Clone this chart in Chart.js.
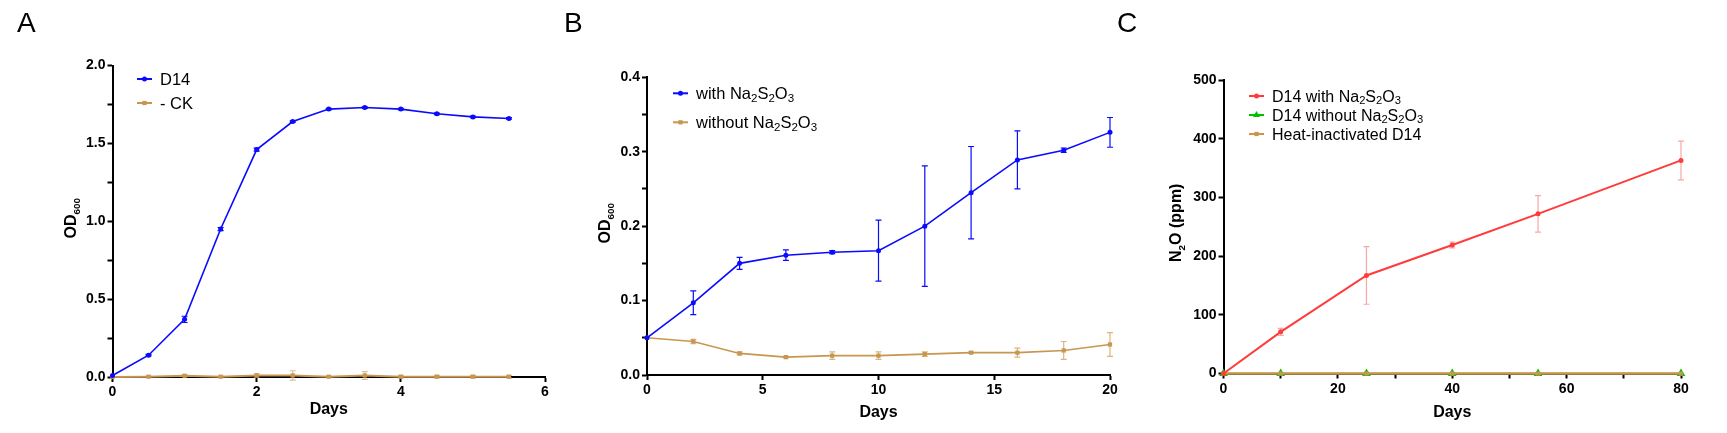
<!DOCTYPE html>
<html>
<head>
<meta charset="utf-8">
<script src="https://cdn.jsdelivr.net/npm/chart.js@4.4.1/dist/chart.umd.min.js"></script>
<style>
  html, body { margin: 0; padding: 0; background: #fff; }
  #wrap { position: relative; width: 1727px; height: 433px; overflow: hidden; }
  .layer { position: absolute; left: 0; top: 0; width: 1727px; height: 433px; }
  .panel { position: absolute; top: 9px; font: 28px "Liberation Sans", Arial, sans-serif; line-height: 28px; color: #000; }
</style>
</head>
<body>
<div id="wrap">
  <div class="layer"><canvas id="chartA"></canvas></div>
  <div class="layer"><canvas id="chartB"></canvas></div>
  <div class="layer"><canvas id="chartC"></canvas></div>
  <div class="panel" style="left:17px">A</div>
  <div class="panel" style="left:564px">B</div>
  <div class="panel" style="left:1117px">C</div>
</div>
<script>
"use strict";

// Panel A - growth curve
var daysA = [0, 0.5, 1, 1.5, 2, 2.5, 3, 3.5, 4, 4.5, 5, 5.5];
var d14OD = [0.01, 0.14, 0.37, 0.95, 1.46, 1.64, 1.72, 1.73, 1.72, 1.69, 1.67, 1.66];
var d14Err = [0, 0.005, 0.02, 0.01, 0.01, 0.005, 0.005, 0.005, 0.005, 0.005, 0.005, 0.005];
var ckOD = [0.0, 0.002, 0.008, 0.002, 0.01, 0.01, 0.002, 0.01, 0.002, 0.002, 0.002, 0.002];
var ckErr = [0, 0.003, 0.006, 0.003, 0.012, 0.03, 0.003, 0.025, 0.008, 0.008, 0.008, 0.008];

// Panel B - thiosulfate
var daysB = [0, 2, 4, 6, 8, 10, 12, 14, 16, 18, 20];
var withOD = [0.050, 0.097, 0.150, 0.161, 0.165, 0.167, 0.200, 0.245, 0.289, 0.302, 0.326];
var withErr = [0, 0.016, 0.008, 0.007, 0.002, 0.041, 0.081, 0.062, 0.039, 0.003, 0.020];
var withoutOD = [0.050, 0.045, 0.029, 0.024, 0.026, 0.026, 0.028, 0.030, 0.030, 0.033, 0.041];
var withoutErr = [0, 0.003, 0.002, 0.001, 0.005, 0.005, 0.003, 0.001, 0.006, 0.012, 0.016];

// Panel C - N2O
var daysC = [0, 10, 25, 40, 55, 80];
var n2oWith = [0, 71, 167, 219, 272, 363];
var n2oWithErr = [0, 6, 49, 5, 31, 33];
var n2oWithout = [0, 0, 0, 0, 0, 0];
var n2oHeat = [0, 0, 0, 0, 0, 0];

var BLUE = "#0a0aff";
var TAN = "#c8964f";
var RED = "#ff3b3b";
var GREEN = "#00c000";
var FONT = "'Liberation Sans', Arial, sans-serif";
var SUBS = "\u2080\u2081\u2082\u2083\u2084\u2085\u2086\u2087\u2088\u2089";

function pairs(xs, ys) {
	return xs.map(function(x, i) { return { x: x, y: ys[i] }; });
}

// split a label into normal / subscript runs so the subscripts get drawn smaller and lower
function runs(text) {
	var out = [];
	Array.from(text).forEach(function(ch) {
		var k = SUBS.indexOf(ch);
		var sub = k >= 0;
		var c = sub ? String(k) : ch;
		var last = out[out.length - 1];
		if (last && last.sub === sub) last.t += c;
		else out.push({ t: c, sub: sub });
	});
	return out;
}

// draws text with baseline at y, starting at x (or centred on x)
function richText(ctx, text, x, y, size, weight, centre, subScale, subDrop) {
	var parts = runs(text);
	var w = 0;
	parts.forEach(function(p) {
		ctx.font = weight + " " + (p.sub ? size * subScale : size) + "px " + FONT;
		p.w = ctx.measureText(p.t).width;
		w += p.w;
	});
	var cx = centre ? x - w / 2 : x;
	ctx.textBaseline = "alphabetic";
	ctx.textAlign = "left";
	parts.forEach(function(p) {
		ctx.font = weight + " " + (p.sub ? size * subScale : size) + "px " + FONT;
		ctx.fillText(p.t, cx, p.sub ? y + size * subDrop : y);
		cx += p.w;
	});
}

var errorBars = {
	id: "errorBars",
	beforeDatasetsDraw: function(chart) {
		var ctx = chart.ctx, xs = chart.scales.x, ys = chart.scales.y;
		chart.data.datasets.forEach(function(ds) {
			if (!ds.errors) return;
			ctx.save();
			ctx.strokeStyle = ds.errorColor || ds.borderColor;
			ctx.lineWidth = 1.2;
			ds.data.forEach(function(p, i) {
				var e = ds.errors[i];
				if (!e) return;
				var px = xs.getPixelForValue(p.x);
				var top = ys.getPixelForValue(p.y + e);
				var bot = ys.getPixelForValue(p.y - e);
				ctx.beginPath();
				ctx.moveTo(px, top); ctx.lineTo(px, bot);
				ctx.moveTo(px - 3, top); ctx.lineTo(px + 3, top);
				ctx.moveTo(px - 3, bot); ctx.lineTo(px + 3, bot);
				ctx.stroke();
			});
			ctx.restore();
		});
	}
};

var inlineLegend = {
	id: "inlineLegend",
	afterDraw: function(chart, args, opts) {
		var ctx = chart.ctx, area = chart.chartArea;
		ctx.save();
		chart.data.datasets.forEach(function(ds, i) {
			var x = area.left + opts.dx;
			var y = area.top + opts.dy + i * opts.spacing;
			ctx.strokeStyle = ds.borderColor;
			ctx.fillStyle = ds.borderColor;
			ctx.lineWidth = 2;
			ctx.beginPath();
			ctx.moveTo(x, y); ctx.lineTo(x + 15, y);
			ctx.stroke();
			Chart.helpers.drawPoint(ctx, { pointStyle: ds.pointStyle, radius: Math.min(ds.pointRadius, 4), borderWidth: 0, rotation: 0 }, x + 7.5, y);
			ctx.fillStyle = "#000";
			richText(ctx, ds.label, x + 23, y + opts.fontSize * 0.36, opts.fontSize, "normal", false, 0.7, 0.17);
		});
		ctx.restore();
	}
};

// y axis title with a real subscript, drawn rotated beside the axis
var yTitle = {
	id: "yTitle",
	afterDraw: function(chart, args, opts) {
		var ctx = chart.ctx, area = chart.chartArea;
		ctx.save();
		ctx.translate(opts.x, (area.top + area.bottom) / 2 + opts.dy);
		ctx.rotate(-Math.PI / 2);
		ctx.fillStyle = "#000";
		richText(ctx, opts.text, 0, opts.size * 0.36, opts.size, "bold", true, 0.62, 0.28);
		ctx.restore();
	}
};

function axis(opts) {
	return {
		type: "linear",
		min: opts.min,
		max: opts.max,
		border: { display: true, color: "#000", width: 2 },
		grid: { display: true, drawOnChartArea: false, drawTicks: true, tickLength: 5, tickColor: "#000", tickWidth: 2 },
		ticks: {
			stepSize: opts.step,
			autoSkip: false,
			maxRotation: 0,
			padding: 2,
			color: "#000",
			font: { family: FONT, size: 14, weight: "bold" },
			callback: opts.label
		},
		title: {
			display: !!opts.title,
			text: opts.title,
			color: "#000",
			font: { family: FONT, size: 16, weight: "bold" },
			padding: { top: 0, bottom: 0 }
		},
		afterFit: function(scale) {
			if (opts.width) scale.width = opts.width;
			if (opts.height) scale.height = opts.height;
		}
	};
}

function every(step, digits) {
	return function(v) {
		var r = v / step;
		return Math.abs(r - Math.round(r)) < 1e-6 ? v.toFixed(digits) : "";
	};
}

function lineSet(label, xs, ys, color, style, radius, errs, extra) {
	var ds = {
		label: label,
		data: pairs(xs, ys),
		borderColor: color,
		backgroundColor: color,
		pointBackgroundColor: color,
		pointBorderWidth: 0,
		pointStyle: style,
		pointRadius: radius,
		borderWidth: 1.6,
		tension: 0,
		clip: false,
		errors: errs
	};
	return Object.assign(ds, extra || {});
}

function makeChart(id, box, datasets, xAxis, yAxis, legend, title) {
	return new Chart(document.getElementById(id).getContext("2d"), {
		type: "line",
		data: { datasets: datasets },
		options: {
			responsive: true,
			maintainAspectRatio: false,
			animation: false,
			events: [],
			layout: { padding: { left: box.left - yAxis.width, right: 1727 - box.right, top: box.top, bottom: 433 - box.bottom - xAxis.height } },
			scales: { x: axis(xAxis), y: axis(yAxis) },
			plugins: {
				legend: { display: false },
				tooltip: { enabled: false },
				inlineLegend: legend,
				yTitle: title
			}
		},
		plugins: [errorBars, inlineLegend, yTitle]
	});
}

makeChart("chartA",
	{ left: 112.5, right: 545, top: 65.5, bottom: 377 },
	[
		lineSet("D14", daysA, d14OD, BLUE, "circle", 2.5, d14Err),
		lineSet("- CK", daysA, ckOD, TAN, "rect", 3, ckErr, { errorColor: "rgba(200,150,79,0.6)", borderWidth: 2 })
	],
	{ min: 0, max: 6, step: 2, label: every(2, 0), title: "Days", height: 42.6 },
	{ min: 0, max: 2, step: 0.25, label: every(0.5, 1), width: 60 },
	{ dx: 24.5, dy: 13.5, spacing: 24, fontSize: 16.5 },
	{ text: "OD\u2086\u2080\u2080", x: 70, dy: -3, size: 16 }
);

makeChart("chartB",
	{ left: 647, right: 1110, top: 77.3, bottom: 375 },
	[
		lineSet("with Na\u2082S\u2082O\u2083", daysB, withOD, BLUE, "circle", 2.5, withErr),
		lineSet("without Na\u2082S\u2082O\u2083", daysB, withoutOD, TAN, "rect", 3, withoutErr, { errorColor: "rgba(200,150,79,0.7)" })
	],
	{ min: 0, max: 20, step: 5, label: every(5, 0), title: "Days", height: 47.1 },
	{ min: 0, max: 0.4, step: 0.05, label: every(0.1, 1), width: 60 },
	{ dx: 26, dy: 16, spacing: 29, fontSize: 16.5 },
	{ text: "OD\u2086\u2080\u2080", x: 604, dy: -3, size: 16 }
);

makeChart("chartC",
	{ left: 1223.5, right: 1681, top: 80, bottom: 373.5 },
	[
		lineSet("D14 with Na\u2082S\u2082O\u2083", daysC, n2oWith, RED, "circle", 2.5, n2oWithErr, { errorColor: "rgba(245,130,130,0.7)", borderWidth: 2, order: 0 }),
		lineSet("D14 without Na\u2082S\u2082O\u2083", daysC, n2oWithout, GREEN, "triangle", 5, null, { order: 2 }),
		lineSet("Heat-inactivated D14", daysC, n2oHeat, TAN, "rect", 3, null, { borderWidth: 2.6, order: 1 })
	],
	{ min: 0, max: 80, step: 10, label: every(20, 0), title: "Days", height: 49.1 },
	{ min: 0, max: 500, step: 100, label: every(100, 0), width: 60 },
	{ dx: 25.5, dy: 16, spacing: 19, fontSize: 16 },
	{ text: "N\u2082O (ppm)", x: 1175, dy: -4, size: 16 }
);
</script>
</body>
</html>
